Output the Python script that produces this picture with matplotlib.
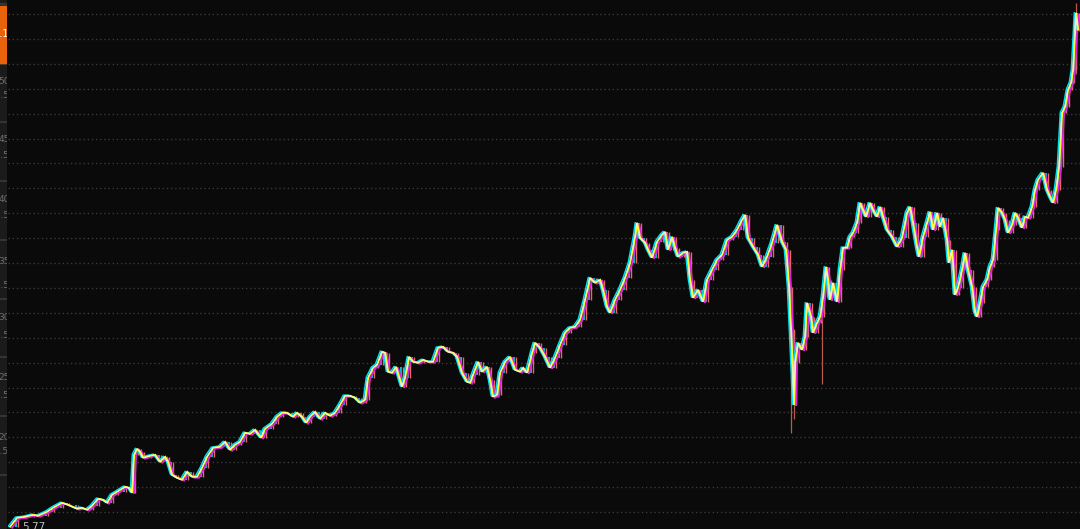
import numpy as np
import matplotlib
matplotlib.use("Agg")
import matplotlib.pyplot as plt
from matplotlib.transforms import offset_copy
from matplotlib.patches import Rectangle

# ---- data (trading-day index, price) ----
days = [10, 17, 25, 33, 38, 47, 53, 62, 68, 77, 82, 87, 92, 98, 103, 107, 112, 117, 125, 129,
        132, 134, 137, 140, 143, 150, 155, 160, 165, 168, 172, 177, 182, 187, 192, 197, 202, 207,
        213, 220, 225, 230, 235, 240, 245, 250, 255, 261, 265, 272, 277, 282, 287, 293, 297, 302,
        306, 310, 315, 320, 325, 330, 335, 340, 345, 350, 355, 360,
        365, 368, 373, 377, 382, 385, 388, 392, 396, 402, 405, 409, 413, 418, 423, 428, 433, 438,
        443, 448, 453, 457, 462, 467, 470, 473, 478, 482, 487, 490, 493, 497, 500, 505, 510, 515,
        520, 523, 527, 532, 535, 540, 545, 550, 555, 560, 565, 570, 575, 580,
        585, 590, 595, 600, 603, 607, 610, 615, 620, 625, 630, 635, 637, 640, 645, 648, 652, 657,
        662, 665, 668, 672, 675, 678, 683, 687, 690, 693, 698, 703, 707, 712, 717, 722, 727, 732,
        737, 742, 745, 748, 753, 758, 762, 767, 772, 777, 782, 786, 789, 791, 793, 794, 795, 798,
        802, 805, 807, 811, 813, 817, 820, 823, 826, 828, 830, 833, 837, 840, 843, 847, 850, 853,
        857, 860, 863, 866, 870, 873, 877, 880, 883, 887, 892, 897, 902, 907, 910, 913, 917, 919,
        923, 927, 930, 933, 937, 940, 943, 947, 949, 952, 955, 958, 962, 965, 968, 972, 975, 977,
        980, 983, 987, 990, 993, 996, 998, 1002, 1005, 1008, 1012, 1015, 1018, 1022, 1025, 1028,
        1032, 1035, 1038, 1043, 1047, 1050, 1053, 1056, 1059, 1062, 1065, 1068, 1071, 1073, 1075,
        1076, 1078]

price = [5.2, 6.1, 6.2, 6.4, 6.3, 6.7, 7.1, 7.6, 7.4, 7.0, 7.1, 6.9, 7.3, 8.0, 7.9, 7.6, 8.4, 8.7, 9.2, 9.1,
         8.6, 12.4, 13.0, 12.7, 12.1, 12.3, 12.4, 11.7, 12.2, 11.7, 10.4, 10.1, 9.9, 10.7, 10.2, 10.2, 11.1, 12.2,
         13.1, 13.2, 13.7, 12.9, 13.4, 13.7, 14.6, 14.5, 14.9, 14.1, 15.0, 15.5, 16.2, 16.6, 16.6, 16.2, 16.6, 16.2,
         15.6, 16.2, 16.7, 16.0, 16.6, 16.3, 16.6, 17.4, 18.3, 18.3, 18.1, 17.6,
         17.9, 20.1, 21.1, 21.4, 22.7, 22.6, 20.7, 20.6, 21.2, 19.2, 20.1, 22.2, 21.7, 21.6, 21.9, 21.7, 21.7, 23.1,
         23.2, 22.7, 22.6, 22.2, 20.6, 19.7, 19.6, 20.4, 21.7, 20.7, 21.2, 19.9, 18.2, 18.4, 20.6, 21.7, 22.2, 20.9,
         20.7, 21.1, 20.6, 22.6, 23.6, 23.1, 22.2, 21.1, 22.1, 23.4, 24.6, 25.1, 25.2, 25.9,
         27.9, 30.1, 29.6, 29.9, 28.9, 27.2, 26.6, 27.9, 28.9, 30.1, 31.6, 34.2, 35.6, 34.1, 33.6, 32.9, 32.1, 33.7,
         34.4, 34.7, 32.9, 34.2, 33.1, 32.2, 32.6, 32.7, 29.9, 28.1, 28.9, 27.7, 29.9, 30.9, 31.9, 32.4, 33.9, 34.2,
         34.9, 35.9, 36.4, 34.1, 33.2, 32.4, 31.2, 32.2, 33.6, 35.4, 33.7, 32.9, 29.2, 24.9, 20.4, 17.4, 21.6, 23.6,
         22.9, 24.2, 27.6, 26.2, 24.6, 25.6, 26.2, 28.2, 31.2, 29.9, 27.9, 29.6, 27.7, 30.9, 33.1, 33.1, 34.2, 34.6,
         35.6, 37.6, 36.9, 36.2, 37.6, 36.9, 36.2, 37.2, 36.2, 34.9, 34.2, 33.2, 34.1, 36.6, 37.2, 35.6, 33.2, 32.2,
         34.2, 35.6, 36.7, 34.9, 36.6, 35.2, 36.1, 33.9, 31.6, 32.9, 28.4, 29.1, 30.9, 32.6, 30.9, 29.2, 26.7, 26.2,
         27.6, 29.2, 29.9, 31.2, 31.9, 34.9, 37.1, 36.6, 35.9, 34.6, 35.4, 36.6, 36.1, 35.1, 36.2, 36.1,
         37.2, 38.9, 39.9, 40.6, 38.9, 38.2, 37.6, 38.9, 41.2, 46.6, 47.2, 48.9, 49.6, 50.9, 54.6,
         56.6, 54.9]

# a few long lower/upper shadows visible in the picture
wick_days = [791, 794, 822, 1076]
wick_low = [14.6, 16.0, 19.5, 50.5]
wick_high = [22.0, 25.0, 26.0, 57.6]

min_label = "5.77"

BG = "#0a0a0a"
fig = plt.figure(figsize=(10.8, 5.29), dpi=100, facecolor=BG)

# ---- main price panel ----
ax = fig.add_axes([8 / 1080, 0, 1072 / 1080, 1])
ax.set_facecolor(BG)
ax.set_xlim(8, 1080)
ax.set_ylim(5.0, 57.9)
for s in ax.spines.values():
    s.set_visible(False)
ax.set_xticks([])
ax.set_yticks([])

for g in np.arange(56.5, 5.0, -2.49):
    ax.axhline(g, color="#3a3a3a", lw=1.0, ls=(0, (1, 2)), zorder=1)

ax.vlines(wick_days, wick_low, wick_high, color="#b85a50", lw=0.9, zorder=2)

# candle-like bars between consecutive closes (glitch colour channels)
prev = price[:1] + price[:-1]
for col, dx, lw in [("#00d8e6", -0.9, 1.2), ("#e86a5c", 0.9, 1.0)]:
    tr = offset_copy(ax.transData, fig=fig, x=dx, y=0, units="points")
    ax.vlines(days, prev, price, color=col, lw=lw, transform=tr, zorder=2)

layers = [
    ("#e020e0", 1.5, -0.5, 1.3),
    ("#00e0ea", -1.2, 0.6, 1.1),
    ("#ffff30", 0.2, 0.2, 1.2),
    ("#f4f4f4", -0.4, 0.0, 0.5),
]
for col, dx, dy, lw in layers:
    tr = offset_copy(ax.transData, fig=fig, x=dx, y=dy, units="points")
    ax.plot(days, price, color=col, lw=lw, transform=tr, zorder=3,
            solid_joinstyle="miter")

ax.text(22, 5.75, min_label, color="#bdbdbd", fontsize=7.5, ha="left", va="top",
        family="DejaVu Sans", zorder=5)

# ---- left cut-off scale strip ----
sx = fig.add_axes([0, 0, 7 / 1080, 1])
sx.set_facecolor("#1b1b1b")
sx.set_xlim(0, 7)
sx.set_ylim(529, 0)
sx.set_xticks([])
sx.set_yticks([])
for s in sx.spines.values():
    s.set_visible(False)
for yy in [4, 64, 122, 181, 240, 299, 357, 416, 475]:
    sx.axhline(yy, color="#3a3a3a", lw=1.2)
sx.add_patch(Rectangle((0, 6), 7, 57, color="#e8630c", zorder=3))
sx.text(9.5, 34, "42.1", color="white", fontsize=7, ha="right", va="center",
        clip_on=True, zorder=4)
strip_labels = [(82, "50"), (95, "47.5"), (140, "45"), (155, "42.5"), (200, "40"), (215, "37.5"),
                (262, "35"), (285, "32.5"), (318, "30"), (335, "27.5"), (377, "25"),
                (395, "22.5"), (437, "20"), (452, "17.5")]
for yy, t in strip_labels:
    sx.text(9.5, yy, t, color="#6e6e6e", fontsize=6.5, ha="right", va="center", clip_on=True)

fig.savefig("out.png", dpi=100, facecolor=BG)
